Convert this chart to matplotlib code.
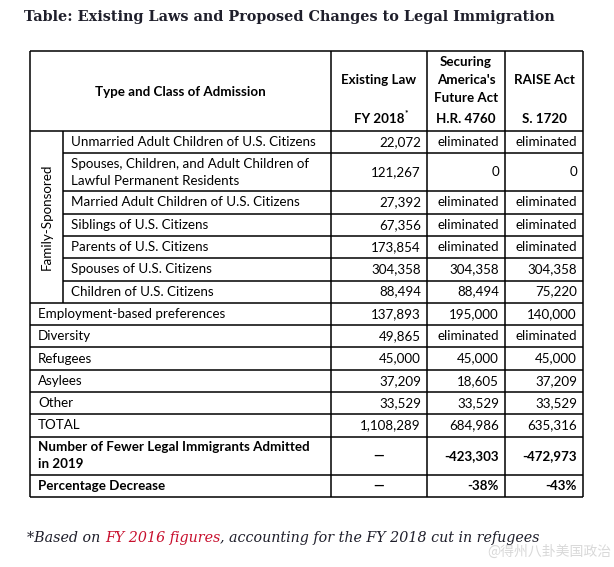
import matplotlib
matplotlib.use("Agg")
import matplotlib.pyplot as plt

# ---- contenu du tableau ----
title = "Table: Existing Laws and Proposed Changes to Legal Immigration"
group_label = "Family-Sponsored"
n_family = 7

categories = [
    "Unmarried Adult Children of U.S. Citizens",
    "Spouses, Children, and Adult Children of\nLawful Permanent Residents",
    "Married Adult Children of U.S. Citizens",
    "Siblings of U.S. Citizens",
    "Parents of U.S. Citizens",
    "Spouses of U.S. Citizens",
    "Children of U.S. Citizens",
    "Employment-based preferences",
    "Diversity",
    "Refugees",
    "Asylees",
    "Other",
    "TOTAL",
    "Number of Fewer Legal Immigrants Admitted\nin 2019",
    "Percentage Decrease",
]
existing_law = ["22,072", "121,267", "27,392", "67,356", "173,854", "304,358", "88,494",
                "137,893", "49,865", "45,000", "37,209", "33,529", "1,108,289", "—", "—"]
securing_act = ["eliminated", "0", "eliminated", "eliminated", "eliminated", "304,358", "88,494",
                "195,000", "eliminated", "45,000", "18,605", "33,529", "684,986", "-423,303", "-38%"]
raise_act = ["eliminated", "0", "eliminated", "eliminated", "eliminated", "304,358", "75,220",
             "140,000", "eliminated", "45,000", "37,209", "33,529", "635,316", "-472,973", "-43%"]
bold_rows = ["Number of Fewer Legal Immigrants Admitted\nin 2019", "Percentage Decrease"]

header_type = "Type and Class of Admission"
header_top = ["Existing Law", "Securing\nAmerica's\nFuture Act", "RAISE Act"]
header_bottom = ["FY 2018", "H.R. 4760", "S. 1720"]

footnote_parts = [("*Based on ", "#1f1f2b"), ("FY 2016 figures", "#c8102e"),
                  (", accounting for the FY 2018 cut in refugees", "#1f1f2b")]
watermark = "@得州八卦美国政治"

# ---- mise en page (pixels) ----
W, H = 614, 567
fig = plt.figure(figsize=(W / 100, H / 100), dpi=100)
ax = fig.add_axes([0, 0, 1, 1])
ax.set_xlim(0, W)
ax.set_ylim(H, 0)
ax.axis("off")
fig.canvas.draw()
renderer = fig.canvas.get_renderer()

body = "Lato"
fs = 9.6
lw = 1.1

x_left, x_grp, x_c1, x_c2, x_c3, x_right = 30, 63, 330.5, 427, 505, 583
y_top, y_head = 51, 131
single, double = 22.3, 38

# bornes des lignes
bounds = [y_head]
for lab in categories:
    h = double if "\n" in lab else single
    bounds.append(bounds[-1] + h)
y_bottom = bounds[-1]


def fit_width(t, target):
    # ajuste la taille pour obtenir la largeur voulue
    w = t.get_window_extent(renderer=renderer).width
    t.set_fontsize(t.get_fontsize() * target / w)


# titre
t = ax.text(24, 17, title, fontsize=12, fontweight="bold", family="DejaVu Serif",
            color="#1f1f2b", va="center", ha="left")
fit_width(t, 528)

# cadre et lignes
def hline(y, x0, x1):
    ax.plot([x0, x1], [y, y], color="black", lw=lw, solid_capstyle="butt")

def vline(x, y0, y1):
    ax.plot([x, x], [y0, y1], color="black", lw=lw, solid_capstyle="butt")

hline(y_top, x_left, x_right)
hline(y_head, x_left, x_right)
for i, y in enumerate(bounds[1:]):
    x0 = x_grp if i < n_family - 1 else x_left
    hline(y, x0, x_right)
vline(x_left, y_top, y_bottom)
vline(x_right, y_top, y_bottom)
for x in (x_c1, x_c2, x_c3):
    vline(x, y_top, y_bottom)
vline(x_grp, y_head, bounds[n_family])

# en-tetes
ax.text((x_left + x_c1) / 2, 92, header_type, fontsize=fs, fontweight="bold",
        family=body, ha="center", va="center")
col_centers = [(x_c1 + x_c2) / 2, (x_c2 + x_c3) / 2, (x_c3 + x_right) / 2]
bottom_texts = []
for cx, top, bot in zip(col_centers, header_top, header_bottom):
    ax.text(cx, 80, top, fontsize=fs, fontweight="bold", family=body,
            ha="center", va="center", linespacing=1.55)
    bottom_texts.append(ax.text(cx, 119, bot, fontsize=fs, fontweight="bold", family=body,
                                ha="center", va="center"))
bb = bottom_texts[0].get_window_extent(renderer=renderer)
x_star = ax.transData.inverted().transform((bb.x1, 0))[0]
ax.text(x_star + 1, 113, "*", fontsize=6, fontweight="bold", family=body,
        ha="left", va="center")

# etiquette du groupe
ax.text((x_left + x_grp) / 2, (y_head + bounds[n_family]) / 2, group_label,
        rotation=90, fontsize=fs, family=body, ha="center", va="center")

# lignes de donnees
for i, lab in enumerate(categories):
    yc = (bounds[i] + bounds[i + 1]) / 2
    weight = "bold" if lab in bold_rows else "normal"
    xl = x_grp + 8 if i < n_family else x_left + 8
    ax.text(xl, yc, lab, fontsize=fs, family=body, fontweight=weight,
            ha="left", va="center", linespacing=1.5)
    vals = [existing_law[i], securing_act[i], raise_act[i]]
    rights = [x_c2, x_c3, x_right]
    lefts = [x_c1, x_c2, x_c3]
    for v, x0, x1 in zip(vals, lefts, rights):
        if v == "—":
            ax.text((x0 + x1) / 2, yc, v, fontsize=fs, family=body, fontweight=weight,
                    ha="center", va="center")
        else:
            ax.text(x1 - 6, yc, v, fontsize=fs, family=body, fontweight=weight,
                    ha="right", va="center")

# note de bas de page en plusieurs couleurs
x = 27
for txt, col in footnote_parts:
    t = ax.text(x, 538, txt, fontsize=10.3, family="DejaVu Serif", style="italic",
                color=col, ha="left", va="center")
    bb = t.get_window_extent(renderer=renderer)
    x += bb.width

ax.text(611, 552, watermark, fontsize=10, family=["Noto Sans CJK SC", "DejaVu Sans"],
        color="#d9d9d9", ha="right", va="center")

fig.savefig("out.png", dpi=100)
